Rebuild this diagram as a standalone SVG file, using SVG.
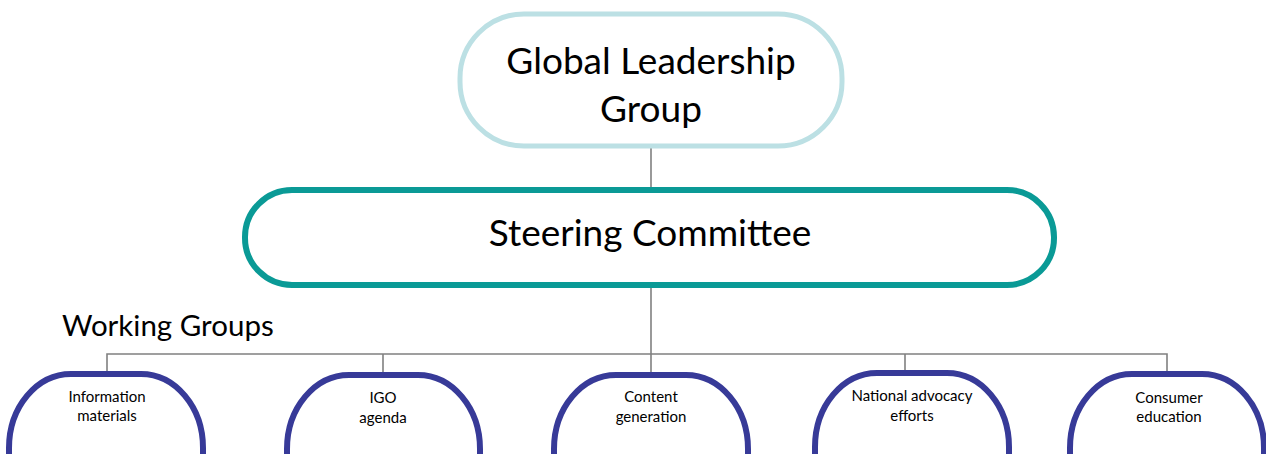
<svg xmlns="http://www.w3.org/2000/svg" width="1266" height="454" viewBox="0 0 1266 454">
<style>
text{font-family:Lato,"Open Sans","Liberation Sans",sans-serif;fill:#000;text-anchor:middle}
.big{font-size:37px}
.small{font-size:15px}
.wg{fill:#fff;stroke:#373a98;stroke-width:6}
.conn{stroke:#808080;stroke-width:1.6;fill:none}
</style>
<rect width="1266" height="454" fill="#fff"/>
<g id="connectors">
<line class="conn" x1="651" y1="147" x2="651" y2="189"/>
<line class="conn" x1="651" y1="285" x2="651" y2="354"/>
<polyline class="conn" points="107,372 107,354 1167,354 1167,372"/>
<line class="conn" x1="383" y1="354" x2="383" y2="373"/>
<line class="conn" x1="651" y1="354" x2="651" y2="373"/>
<line class="conn" x1="905" y1="354" x2="905" y2="372"/>
</g>
<g id="global">
<rect x="460" y="14" width="382" height="132" rx="64" ry="64" fill="#fff" stroke="#bce0e4" stroke-width="5"/>
<text class="big" x="651" y="74">Global Leadership</text>
<text class="big" x="651" y="122">Group</text>
</g>
<g id="steering">
<rect x="245" y="190" width="809" height="95" rx="47" ry="47" fill="#fff" stroke="#0a9a96" stroke-width="6"/>
<text class="big" x="650" y="246">Steering Committee</text>
</g>
<text id="working-groups-label" x="62" y="336" style="font-size:29.5px;text-anchor:start">Working Groups</text>
<g id="wg1">
<rect class="wg" x="9" y="374" width="194" height="160" rx="62" ry="74"/>
<text class="small" x="107" y="402">Information</text>
<text class="small" x="107" y="421">materials</text>
</g>
<g id="wg2">
<rect class="wg" x="287" y="375" width="193" height="160" rx="62" ry="74"/>
<text class="small" x="383" y="403">IGO</text>
<text class="small" x="383" y="423">agenda</text>
</g>
<g id="wg3">
<rect class="wg" x="554" y="375" width="194" height="160" rx="62" ry="74"/>
<text class="small" x="651" y="402">Content</text>
<text class="small" x="651" y="422">generation</text>
</g>
<g id="wg4">
<rect class="wg" x="815" y="373" width="194" height="160" rx="62" ry="74"/>
<text class="small" x="912" y="401">National advocacy</text>
<text class="small" x="912" y="421">efforts</text>
</g>
<g id="wg5">
<rect class="wg" x="1070" y="374" width="194" height="160" rx="62" ry="74"/>
<text class="small" x="1169" y="403">Consumer</text>
<text class="small" x="1169" y="422">education</text>
</g>
</svg>
